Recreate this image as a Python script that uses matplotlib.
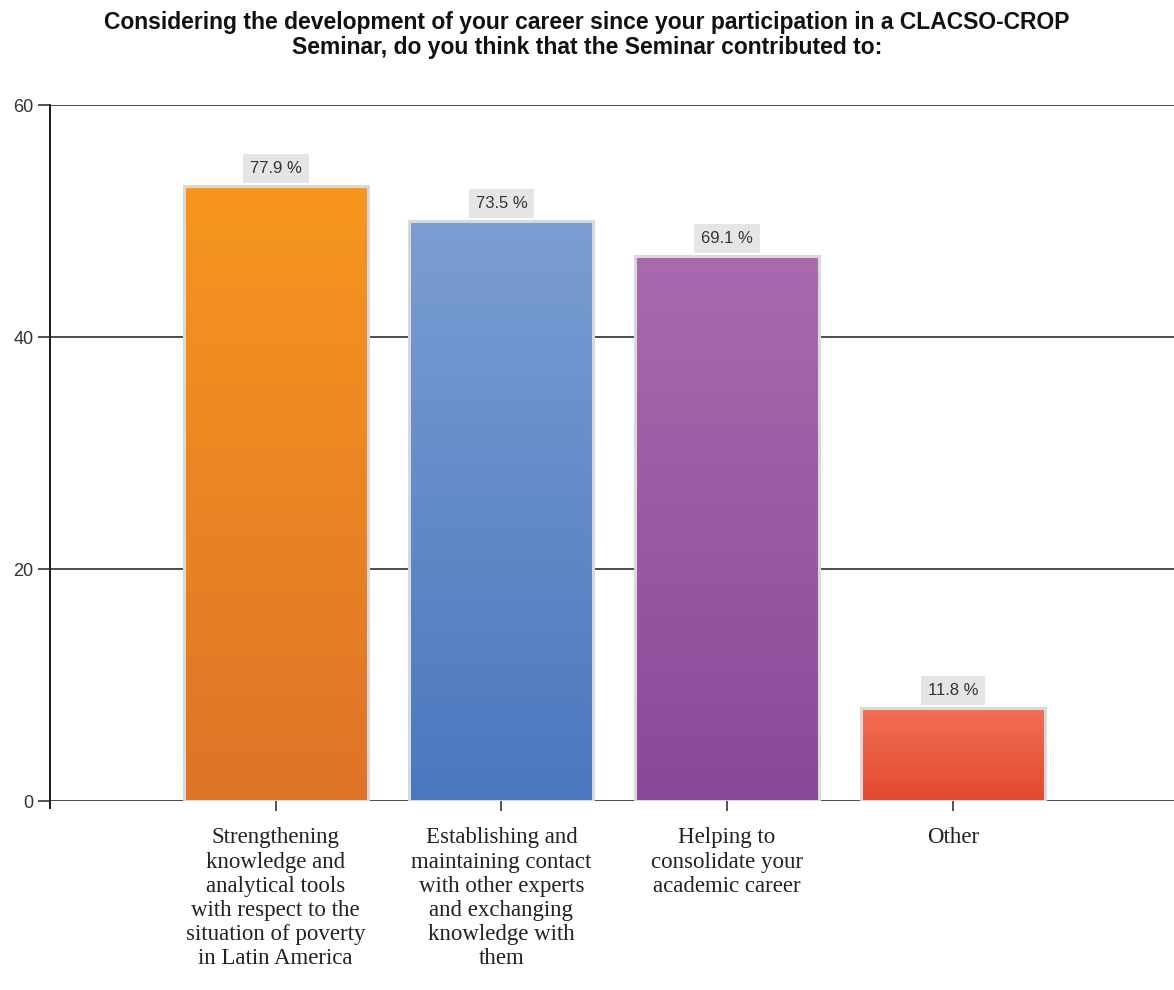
import numpy as np
import matplotlib.pyplot as plt
from matplotlib.colors import LinearSegmentedColormap

categories = [
    "Strengthening\nknowledge and\nanalytical tools\nwith respect to the\nsituation of poverty\nin Latin America",
    "Establishing and\nmaintaining contact\nwith other experts\nand exchanging\nknowledge with\nthem",
    "Helping to\nconsolidate your\nacademic career",
    "Other",
]
counts = [53, 50, 47, 8]
percent_labels = ["77.9 %", "73.5 %", "69.1 %", "11.8 %"]
yticks = [0, 20, 40, 60]

# top / bottom colours of each bar gradient
grad_colors = [
    ("#F7961F", "#DF7328"),
    ("#7B9DD3", "#4A77BE"),
    ("#A96BAD", "#8B4899"),
    ("#F16E56", "#E24A2E"),
]

title = ("Considering the development of your career since your participation in a CLACSO-CROP\n"
         "Seminar, do you think that the Seminar contributed to:")

fig = plt.figure(figsize=(11.74, 9.9), dpi=100)
ax = fig.add_axes([50 / 1174, (990 - 801) / 990, (1174 - 50) / 1174, (801 - 105) / 990])

x = np.arange(len(categories))
width = 0.815

# gridlines
for v in yticks:
    ax.axhline(v, color="#1a1a1a", linewidth=1.1, zorder=1)

bars = ax.bar(x, counts, width, color="none", edgecolor="#D9D9D9", linewidth=2.2, zorder=3)
for b, (top, bot) in zip(bars, grad_colors):
    cmap = LinearSegmentedColormap.from_list("g", [bot, top])
    x0, y0 = b.get_x(), b.get_y()
    w, h = b.get_width(), b.get_height()
    grad = np.linspace(0, 1, 256).reshape(-1, 1)
    ax.imshow(grad, cmap=cmap, origin="lower", aspect="auto",
              extent=(x0, x0 + w, y0, y0 + h), zorder=2)

ax.set_xlim(-1.0, 3.98)
ax.set_ylim(0, 60)

for xi, c, lab in zip(x, counts, percent_labels):
    ax.annotate(lab, xy=(xi, c), xytext=(0, 12.5), textcoords="offset points",
                ha="center", va="center", fontsize=12, color="#333333",
                family="Liberation Sans",
                bbox=dict(boxstyle="square,pad=0.42", fc="#E5E5E5", ec="none"),
                zorder=5)

ax.set_xticks(x)
ax.set_xticklabels(categories, family="Liberation Serif", fontsize=16.5,
                   color="#222222", linespacing=1.2)
ax.set_yticks(yticks)
ax.set_yticklabels([str(v) for v in yticks], family="Liberation Sans",
                   fontsize=13, color="#333333")
ax.tick_params(axis="x", length=7, width=1.1, color="#222222", pad=12)
ax.tick_params(axis="y", length=9, width=1.1, color="#222222", pad=3)

for s in ["top", "right", "bottom"]:
    ax.spines[s].set_visible(False)
ax.spines["left"].set_color("#1a1a1a")
ax.spines["left"].set_linewidth(1.4)
ax.plot([-1.0, -1.0], [0, -0.6], color="#1a1a1a", linewidth=1.4, clip_on=False)

fig.text(0.5, 1 - 35 / 990, title, ha="center", va="center", fontsize=16.5,
         fontweight="bold", family="Liberation Sans", color="#111111",
         linespacing=1.15)

fig.savefig("out.png", dpi=100)
